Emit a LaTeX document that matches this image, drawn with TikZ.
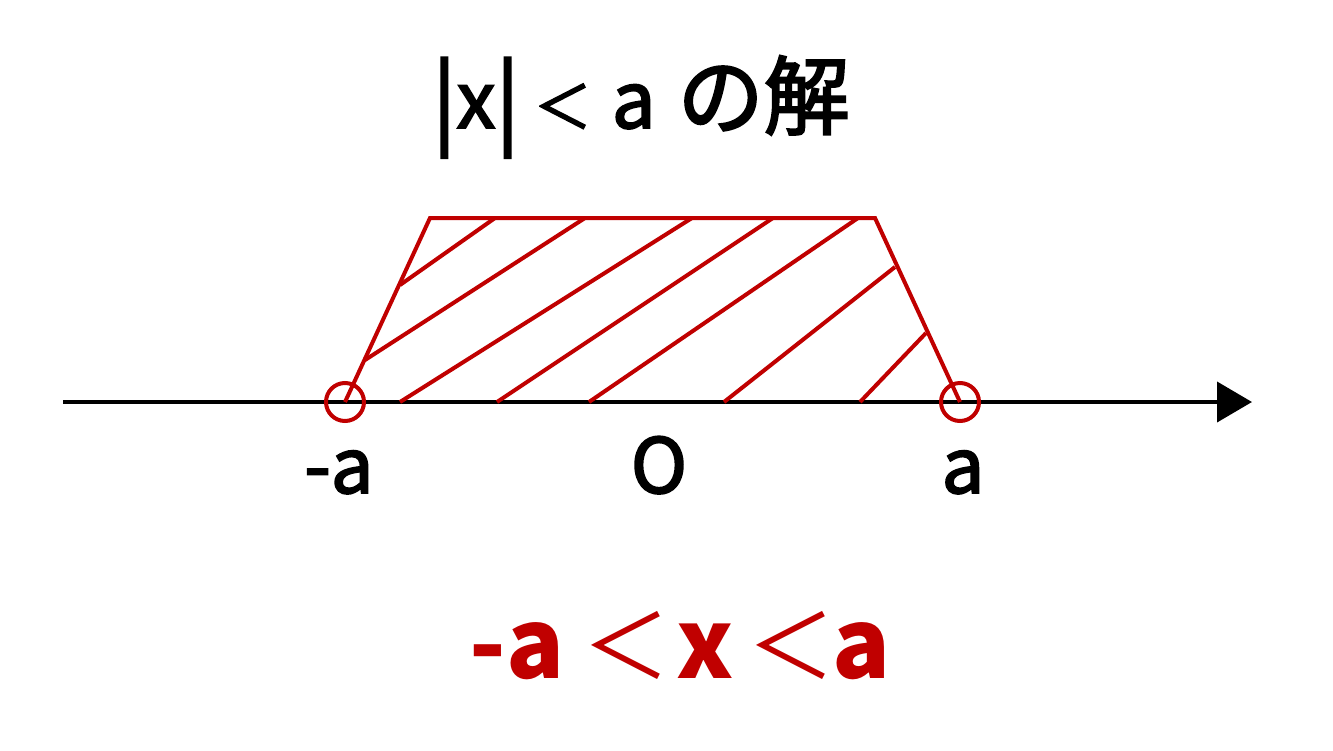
\documentclass[tikz,border=0pt]{standalone}
\usepackage{fontspec}
\setmainfont{Noto Sans CJK JP}
\newfontfamily\medfont{Noto Sans CJK JP}[FakeBold=2.5]
\usetikzlibrary{arrows.meta}
\definecolor{myred}{HTML}{C00000}
\tikzset{
  redline/.style={draw=myred, line width=4pt},
  opencirc/.style={draw=myred, line width=4pt, circle, minimum size=38pt, inner sep=0pt},
  lbl/.style={anchor=base, font=\medfont\fontsize{76}{80}\selectfont, inner sep=0pt},
}
\begin{document}
\begin{tikzpicture}[x=1pt,y=-1pt]
\useasboundingbox (0,0) rectangle (1333,750);
% axis
\coordinate (axL) at (63,402);
\coordinate (axR) at (1252,402);
\draw[line width=4pt, -{Triangle[length=35pt,width=40pt]}] (axL) -- (axR);
% trapezoid
\coordinate (bl) at (345,402);
\coordinate (tl) at (430,218);
\coordinate (tr) at (875,218);
\coordinate (br) at (960,402);
\draw[redline, line join=miter] (bl) -- (tl) -- (tr) -- (br);
% hatch lines
\draw[redline] (400,285) -- (495,218);
\draw[redline] (365,360) -- (585,218);
\draw[redline] (400,402) -- (692,218);
\draw[redline] (497,402) -- (773,218);
\draw[redline] (589,402) -- (858,218);
\draw[redline] (724,402) -- (895,267);
\draw[redline] (860,402) -- (926,333);
% open circles
\node[opencirc] (cl) at (345,402) {};
\node[opencirc] (cr) at (960,402) {};
% labels
\node[lbl] (la) at (339,493) {-a};
\node[lbl] (lo) at (659,493) {O};
\node[lbl] (lb) at (963,493) {a};
% title
\node[anchor=base, inner sep=0pt, font=\medfont\fontsize{78}{80}\selectfont] (title) at (641,128)
  {{\fontsize{90}{90}\selectfont\raisebox{-5pt}{|}}x{\fontsize{90}{90}\selectfont\raisebox{-5pt}{|}}\hspace{14pt}{\fontsize{58}{58}\selectfont ＜}\hspace{20pt}a\hspace{22pt}{\fontsize{86}{86}\selectfont の解}};
% result
\node[anchor=base, inner sep=0pt, text=myred, font=\fontsize{96}{110}\selectfont] (res) at (680,678)
  {\textbf{-a}\hspace{18pt}{\fontsize{88}{88}\selectfont ＜}\hspace{6pt}\textbf{x}\hspace{14pt}{\fontsize{88}{88}\selectfont ＜}\hspace{-3pt}\textbf{a}};
\end{tikzpicture}
\end{document}
